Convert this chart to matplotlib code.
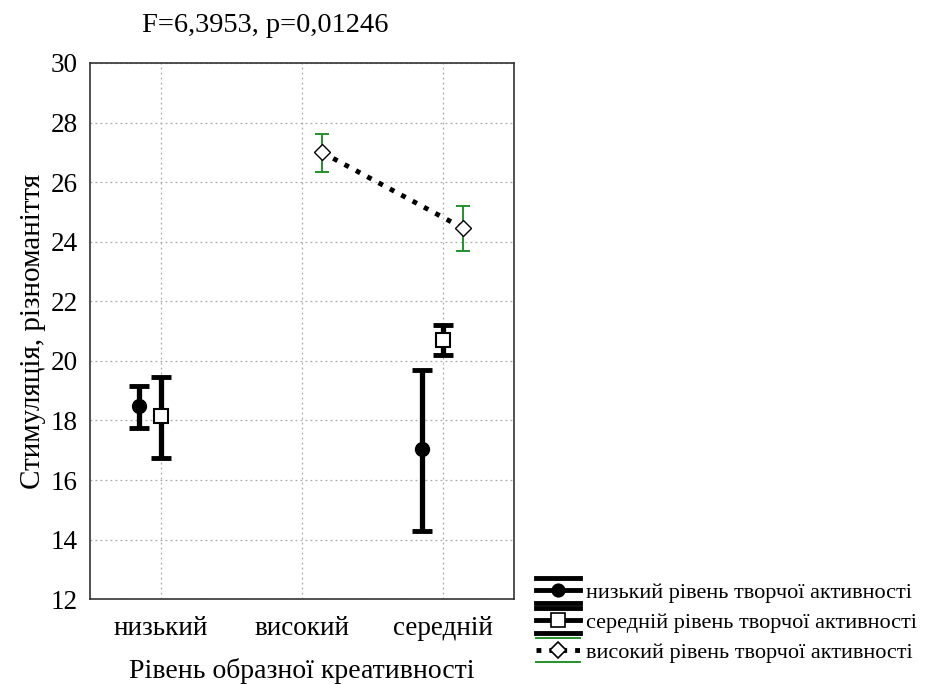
import matplotlib
matplotlib.use("Agg")
import matplotlib.pyplot as plt
from matplotlib.lines import Line2D
from matplotlib.legend_handler import HandlerBase
import numpy as np

plt.rcParams['font.family'] = ['Liberation Serif', 'DejaVu Serif']

categories = ['низький', 'високий', 'середній']
series_names = ['низький рівень творчої активності',
                'середній рівень творчої активності',
                'високий рівень творчої активності']

# means and confidence limits per group (None = no data)
low_mean = [18.5, None, 17.05]
low_lo = [17.75, None, 14.3]
low_hi = [19.15, None, 19.7]

mid_mean = [18.15, None, 20.7]
mid_lo = [16.75, None, 20.2]
mid_hi = [19.45, None, 21.2]

high_mean = [None, 27.0, 24.45]
high_lo = [None, 26.35, 23.7]
high_hi = [None, 27.6, 25.2]

fig = plt.figure(figsize=(9.28, 6.84), dpi=100)
ax = fig.add_axes([0.097, 0.124, 0.457, 0.784])


def draw(mean, lo, hi, offset, mew, **kw):
    idx = [i for i, m in enumerate(mean) if m is not None]
    x = np.array(idx) + offset
    y = np.array([mean[i] for i in idx])
    err = np.array([[mean[i] - lo[i] for i in idx], [hi[i] - mean[i] for i in idx]])
    eb = ax.errorbar(x, y, yerr=err, **kw)
    # set marker edge here so it does not override the cap thickness
    eb.lines[0].set_markeredgewidth(mew)
    return eb


draw(low_mean, low_lo, low_hi, -0.15, 1.0, fmt='o', color='black', ms=10,
     elinewidth=3.8, capsize=7.5, capthick=3.5, zorder=3)
draw(mid_mean, mid_lo, mid_hi, 0.0, 1.5, fmt='s', color='black', mfc='white', mec='black',
     ms=10.5, elinewidth=3.8, capsize=7, capthick=3.5, zorder=3)
draw(high_mean, high_lo, high_hi, 0.14, 1.0, fmt='D', ls=':', lw=3.5, color='black',
     mfc='white', mec='black', ms=8.5, ecolor='#22922a', elinewidth=1.4,
     capsize=4.8, capthick=1.4, zorder=3)

ax.set_xlim(-0.5, 2.5)
ax.set_ylim(12, 30)
ax.set_xticks(range(len(categories)))
ax.set_xticklabels(categories)
ax.set_yticks(np.arange(12, 31, 2))
ax.tick_params(length=0, labelsize=19.5)
ax.tick_params(axis='x', pad=12)
ax.tick_params(axis='y', pad=9)
ax.grid(True, color='#aaaaaa', ls=(0, (1.5, 2.5)), lw=0.9)
ax.set_axisbelow(True)
for s in ax.spines.values():
    s.set_linewidth(1.2)
    s.set_color('#333333')

ax.set_xlabel('Рівень образної креативності', fontsize=20, labelpad=12)
ax.set_ylabel('Стимуляція, різноманіття', fontsize=21, labelpad=3)
fig.text(0.286, 0.963, 'F=6,3953, p=0,01246', fontsize=20.5, ha='center', va='center')


# legend keys drawn like the STATISTICA ones: caps above and below, line through marker
class Key:
    def __init__(self, marker, mfc, ms, ls, lw, ecolor, capw):
        self.marker, self.mfc, self.ms = marker, mfc, ms
        self.ls, self.lw, self.ecolor, self.capw = ls, lw, ecolor, capw


class KeyHandler(HandlerBase):
    def create_artists(self, legend, h, xdescent, ydescent, width, height, fontsize, trans):
        x0, x1 = -xdescent, width - xdescent
        yc = height / 2 - ydescent
        dy = height * 0.8
        arts = [Line2D([x0, x1], [yc, yc], ls=h.ls, lw=h.lw, color='black')]
        for yy in (yc + dy, yc - dy):
            arts.append(Line2D([x0, x1], [yy, yy], lw=h.capw, color=h.ecolor))
        arts.append(Line2D([(x0 + x1) / 2], [yc], ls='none', marker=h.marker, ms=h.ms,
                           mfc=h.mfc, mec='black', mew=1.2))
        for a in arts:
            a.set_transform(trans)
        return arts


keys = [Key('o', 'black', 9, '-', 3.5, 'black', 3.5),
        Key('s', 'white', 9.5, '-', 3.5, 'black', 3.5),
        Key('D', 'white', 8, ':', 3.5, '#22922a', 1.4)]

fig.legend(keys, series_names, handler_map={Key: KeyHandler()},
           loc='lower left', bbox_to_anchor=(0.578, 0.031), frameon=False,
           fontsize=16, handlelength=1.95, handletextpad=0.3, labelspacing=0.42,
           borderpad=0, borderaxespad=0)

fig.savefig('out.png', dpi=100)
